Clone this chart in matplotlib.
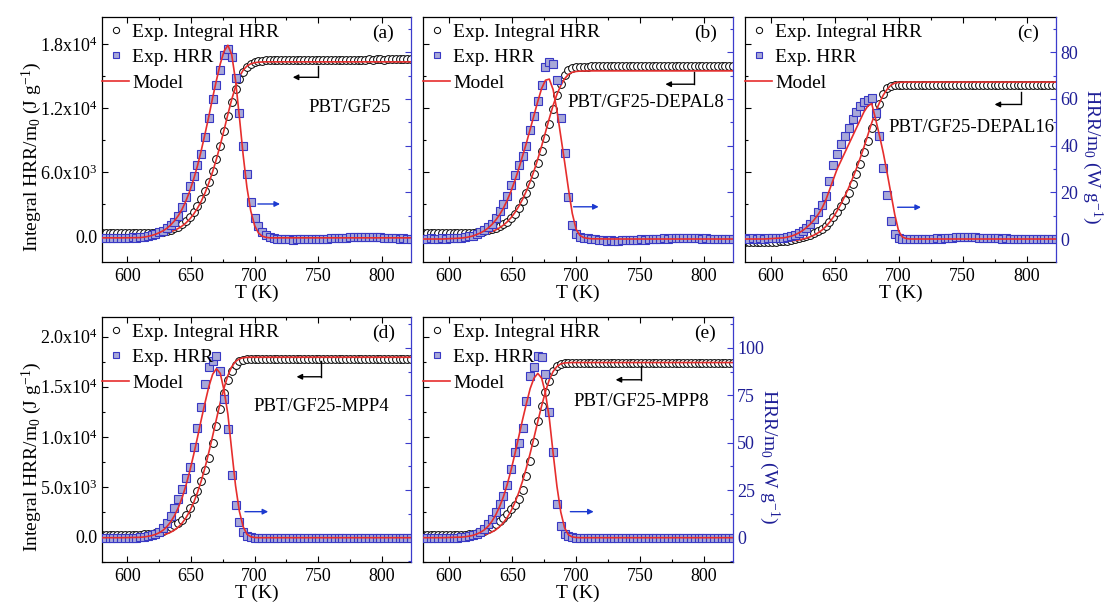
import math
import matplotlib
matplotlib.use("Agg")
import matplotlib.pyplot as plt
from matplotlib.ticker import MultipleLocator, FuncFormatter
from matplotlib.lines import Line2D

plt.rcParams['font.family'] = ['Liberation Serif', 'DejaVu Serif']
plt.rcParams['mathtext.fontset'] = 'custom'
plt.rcParams['mathtext.rm'] = 'Liberation Serif'
plt.rcParams['mathtext.it'] = 'Liberation Serif:italic'
plt.rcParams['mathtext.bf'] = 'Liberation Serif:bold'

# temperature grids (K)
T_exp = [580, 583, 586, 589, 592, 595, 598, 601, 604, 607, 610, 613, 616, 619,
         622, 625, 628, 631, 634, 637, 640, 643, 646, 649, 652, 655, 658, 661,
         664, 667, 670, 673, 676, 679, 682, 685, 688, 691, 694, 697, 700, 703,
         706, 709, 712, 715, 718, 721, 724, 727, 730, 733, 736, 739, 742, 745,
         748, 751, 754, 757, 760, 763, 766, 769, 772, 775, 778, 781, 784, 787,
         790, 793, 796, 799, 802, 805, 808, 811, 814, 817, 820, 823]
T_model = [580, 595, 610, 613, 616, 619, 622, 625, 628, 631, 634, 637, 640, 643,
           646, 649, 652, 655, 658, 661, 664, 667, 670, 673, 676, 679, 682, 685,
           688, 691, 694, 697, 700, 703, 706, 709, 712, 725, 823]

# (a) PBT/GF25 ; HRR in W/g, integral in 10^3 J/g
hrr_a = [0.5, 0.3, 0.6, 0.4, 0.5, 0.6, 0.4, 0.5, 0.7, 0.6, 0.8, 1.0, 1.3, 1.8,
         2.3, 2.8, 3.6, 4.6, 5.9, 7.3, 9.8, 13.5, 18.0, 22.5, 27.0, 31.5, 36.5, 43.5,
         52.0, 60.0, 66.0, 72.5, 79.0, 81.5, 78.0, 69.0, 54.0, 40.0, 28.0, 16.0, 9.0, 5.5,
         3.2, 1.8, 1.0, 0.5, 0.2, 0.0, -0.2, -0.1, -0.3, -0.2, 0.0, -0.1, 0.1, 0.0,
         0.2, 0.1, -0.1, 0.2, 0.4, 0.3, 0.5, 0.6, 0.4, 0.7, 0.9, 0.8, 1.0, 0.9,
         0.7, 0.8, 1.0, 0.8, 0.6, 0.4, 0.3, 0.5, 0.2, 0.3, 0.1, 0.2]
int_a = [0.24, 0.24, 0.25, 0.24, 0.25, 0.25, 0.24, 0.25, 0.25, 0.25, 0.26, 0.26, 0.27, 0.28,
         0.30, 0.34, 0.40, 0.48, 0.58, 0.71, 0.87, 1.11, 1.42, 1.80, 2.27, 2.81, 3.44, 4.19,
         5.08, 6.11, 7.25, 8.49, 9.85, 11.25, 12.60, 13.78, 14.71, 15.40, 15.88, 16.16, 16.31, 16.41,
         16.46, 16.49, 16.51, 16.52, 16.52, 16.53, 16.52, 16.53, 16.54, 16.53, 16.54, 16.54, 16.55, 16.54,
         16.55, 16.55, 16.56, 16.55, 16.56, 16.56, 16.55, 16.56, 16.57, 16.56, 16.57, 16.57, 16.56, 16.57,
         16.58, 16.57, 16.58, 16.58, 16.57, 16.58, 16.58, 16.59, 16.58, 16.59, 16.59, 16.58]
mhrr_a = [0.5, 0.5, 0.6, 0.8, 1.1, 1.5, 2.0, 2.7, 3.5, 4.6, 6.0, 7.8, 10.0, 12.8,
          16.3, 20.5, 25.5, 31.2, 37.8, 45.0, 52.5, 60.5, 68.0, 75.0, 80.5, 83.0, 79.0, 68.0,
          52.5, 36.0, 22.0, 12.0, 5.8, 2.6, 1.2, 0.7, 0.5, 0.5, 0.5]
mint_a = [0.0, 0.0, 0.01, 0.02, 0.04, 0.07, 0.11, 0.15, 0.21, 0.30, 0.40, 0.54, 0.71, 0.94,
          1.23, 1.59, 2.04, 2.59, 3.25, 4.04, 4.97, 6.03, 7.23, 8.55, 9.96, 11.43, 12.82, 14.01,
          14.94, 15.57, 15.96, 16.17, 16.27, 16.32, 16.34, 16.35, 16.35, 16.35, 16.35]

# (b) PBT/GF25-DEPAL8
hrr_b = [0.2, 0.0, 0.3, 0.1, 0.2, 0.3, 0.2, 0.4, 0.3, 0.5, 0.6, 0.8, 1.1, 1.5,
         2.1, 2.8, 3.8, 5.0, 6.6, 8.8, 11.8, 14.8, 18.5, 23.0, 27.5, 31.7, 35.5, 40.0,
         46.5, 52.5, 59.0, 66.0, 73.5, 76.0, 75.0, 68.0, 52.0, 37.0, 18.0, 6.0, 2.2, 1.0,
         0.5, 0.3, 0.2, 0.0, -0.3, -0.5, -0.7, -0.6, -0.8, -0.7, -0.5, -0.6, -0.4, -0.3,
         -0.5, -0.2, -0.3, 0.0, -0.1, 0.2, 0.1, 0.3, 0.2, 0.4, 0.5, 0.3, 0.4, 0.6,
         0.5, 0.3, 0.4, 0.2, 0.3, 0.1, 0.2, 0.0, 0.1, -0.1, 0.0, -0.2]
int_b = [0.25, 0.25, 0.24, 0.25, 0.25, 0.26, 0.25, 0.26, 0.26, 0.27, 0.27, 0.28, 0.30, 0.32,
         0.36, 0.41, 0.48, 0.57, 0.66, 0.77, 0.90, 1.10, 1.35, 1.65, 2.10, 2.65, 3.30, 4.00,
         4.85, 5.85, 6.90, 8.00, 9.20, 10.50, 11.90, 13.20, 14.30, 15.10, 15.55, 15.75, 15.85, 15.88,
         15.90, 15.91, 15.92, 15.92, 15.93, 15.92, 15.93, 15.93, 15.94, 15.93, 15.94, 15.94, 15.95, 15.94,
         15.95, 15.95, 15.96, 15.95, 15.96, 15.96, 15.95, 15.96, 15.97, 15.96, 15.97, 15.97, 15.96, 15.97,
         15.98, 15.97, 15.98, 15.98, 15.97, 15.98, 15.98, 15.99, 15.98, 15.99, 15.99, 15.98]
mhrr_b = [0.0, 0.0, 0.4, 0.6, 0.9, 1.3, 1.9, 2.6, 3.5, 4.7, 6.2, 8.1, 10.4, 13.2,
          16.6, 20.5, 25.0, 30.0, 35.5, 41.0, 47.0, 53.0, 59.0, 64.5, 68.0, 68.5, 64.0, 55.0,
          44.0, 33.0, 21.5, 11.0, 4.2, 1.5, 0.6, 0.3, 0.1, 0.0, 0.0]
mint_b = [0.0, 0.0, 0.01, 0.02, 0.04, 0.06, 0.10, 0.15, 0.21, 0.30, 0.42, 0.57, 0.77, 1.02,
          1.33, 1.72, 2.20, 2.77, 3.44, 4.22, 5.11, 6.11, 7.23, 8.45, 9.74, 11.04, 12.26, 13.30,
          14.13, 14.76, 15.17, 15.37, 15.45, 15.48, 15.49, 15.50, 15.50, 15.50, 15.50]

# (c) PBT/GF25-DEPAL16
hrr_c = [0.3, 0.1, 0.4, 0.2, 0.3, 0.1, 0.3, 0.4, 0.3, 0.5, 0.6, 0.9, 1.3, 1.9,
         2.7, 3.6, 4.8, 6.4, 8.6, 11.5, 14.5, 18.5, 25.0, 31.5, 36.5, 40.5, 44.0, 47.5,
         51.5, 54.5, 57.0, 58.5, 59.5, 60.5, 54.0, 44.0, 30.5, 19.0, 7.5, 2.0, 0.6, 0.2,
         0.1, 0.0, 0.0, -0.1, 0.1, 0.0, 0.2, 0.1, 0.3, 0.2, 0.4, 0.5, 0.6, 0.8,
         0.7, 0.9, 0.8, 0.7, 0.9, 0.6, 0.5, 0.6, 0.4, 0.3, 0.4, 0.2, 0.3, 0.1,
         0.2, 0.0, 0.1, 0.0, -0.1, 0.0, 0.1, -0.1, 0.0, -0.2, -0.1, 0.0]
int_c = [-0.55, -0.55, -0.54, -0.55, -0.55, -0.54, -0.54, -0.53, -0.52, -0.50, -0.47, -0.43, -0.38, -0.31,
         -0.22, -0.12, 0.00, 0.13, 0.28, 0.47, 0.68, 0.95, 1.30, 1.75, 2.25, 2.80, 3.40, 4.05,
         4.90, 5.80, 6.80, 7.85, 8.95, 10.10, 11.25, 12.40, 13.30, 13.88, 14.08, 14.14, 14.15, 14.16,
         14.16, 14.16, 14.16, 14.17, 14.16, 14.17, 14.17, 14.16, 14.17, 14.18, 14.17, 14.17, 14.18, 14.17,
         14.18, 14.18, 14.17, 14.18, 14.19, 14.18, 14.18, 14.19, 14.18, 14.19, 14.19, 14.18, 14.19, 14.20,
         14.19, 14.19, 14.20, 14.19, 14.20, 14.20, 14.19, 14.20, 14.20, 14.21, 14.20, 14.20]
mhrr_c = [0.0, 0.0, 0.5, 0.8, 1.2, 1.8, 2.6, 3.6, 4.9, 6.4, 8.2, 10.4, 13.0, 16.5,
          21.0, 25.5, 30.0, 33.5, 37.0, 40.5, 44.0, 47.5, 51.0, 54.5, 57.0, 58.0, 51.5, 44.5,
          37.0, 28.5, 19.5, 10.5, 3.5, 0.8, 0.2, 0.0, 0.0, 0.0, 0.0]
mint_c = [-0.50, -0.50, -0.49, -0.47, -0.45, -0.42, -0.37, -0.29, -0.20, -0.07, 0.09, 0.29, 0.54, 0.87,
          1.28, 1.77, 2.36, 3.01, 3.74, 4.53, 5.39, 6.31, 7.31, 8.37, 9.49, 10.62, 11.63, 12.50,
          13.22, 13.77, 14.16, 14.36, 14.43, 14.44, 14.45, 14.45, 14.45, 14.45, 14.45]

# (d) PBT/GF25-MPP4
hrr_d = [-0.2, -0.4, -0.1, -0.3, -0.2, -0.4, -0.2, -0.1, 0.0, 0.1, 0.3, 0.6, 0.9, 1.4,
         2.1, 3.2, 5.0, 7.5, 11.5, 15.5, 20.5, 25.5, 31.5, 37.0, 48.0, 58.0, 69.0, 81.0,
         90.0, 93.0, 95.5, 88.0, 73.0, 57.0, 33.0, 17.0, 8.0, 3.0, 1.0, 0.3, 0.0, -0.2,
         -0.3, -0.2, -0.3, -0.2, -0.4, -0.3, -0.2, -0.3, -0.4, -0.3, -0.2, -0.3, -0.3, -0.4,
         -0.2, -0.3, -0.3, -0.2, -0.4, -0.3, -0.3, -0.2, -0.3, -0.4, -0.3, -0.2, -0.3, -0.3,
         -0.4, -0.3, -0.2, -0.3, -0.3, -0.2, -0.4, -0.3, -0.3, -0.2, -0.3, -0.3]
int_d = [0.20, 0.20, 0.21, 0.20, 0.21, 0.21, 0.20, 0.21, 0.22, 0.22, 0.23, 0.25, 0.28, 0.32,
         0.40, 0.50, 0.63, 0.80, 1.00, 1.20, 1.42, 1.68, 2.20, 2.90, 3.80, 4.60, 5.60, 6.70,
         7.90, 9.40, 11.10, 12.80, 14.40, 15.70, 16.60, 17.20, 17.55, 17.72, 17.78, 17.80, 17.81, 17.81,
         17.82, 17.82, 17.82, 17.81, 17.82, 17.81, 17.81, 17.82, 17.81, 17.80, 17.81, 17.80, 17.81, 17.80,
         17.80, 17.79, 17.80, 17.79, 17.80, 17.79, 17.79, 17.78, 17.79, 17.78, 17.79, 17.78, 17.78, 17.77,
         17.78, 17.77, 17.78, 17.77, 17.77, 17.76, 17.77, 17.76, 17.77, 17.76, 17.76, 17.75]
mhrr_d = [0.0, 0.0, 0.2, 0.4, 0.7, 1.1, 1.7, 2.6, 3.9, 5.8, 8.3, 11.6, 15.8, 21.0,
          27.5, 35.0, 43.5, 52.5, 62.0, 71.0, 79.5, 86.0, 89.0, 86.5, 77.5, 65.0, 46.0, 27.5,
          14.0, 5.8, 1.8, 0.5, 0.1, 0.0, 0.0, 0.0, 0.0, 0.0, 0.0]
mint_d = [0.0, 0.0, 0.00, 0.01, 0.02, 0.05, 0.08, 0.13, 0.20, 0.31, 0.47, 0.69, 0.99, 1.39,
          1.91, 2.58, 3.41, 4.41, 5.58, 6.93, 8.45, 10.08, 11.78, 13.42, 14.89, 16.13, 17.00, 17.53,
          17.79, 17.90, 17.94, 17.95, 17.95, 17.95, 17.95, 17.95, 17.95, 17.95, 17.95]

# (e) PBT/GF25-MPP8
hrr_e = [-0.1, -0.3, 0.0, -0.2, -0.1, -0.3, -0.1, 0.0, -0.2, 0.1, 0.3, 0.5, 0.8, 1.3,
         2.0, 3.0, 4.5, 7.0, 10.0, 13.5, 17.5, 22.0, 28.0, 36.0, 45.0, 50.0, 58.0, 72.0,
         85.0, 90.0, 95.5, 95.0, 86.0, 66.0, 45.0, 18.0, 6.0, 2.2, 0.8, 0.3, 0.1, -0.1,
         -0.2, -0.3, -0.3, -0.2, -0.4, -0.3, -0.3, -0.2, -0.3, -0.4, -0.3, -0.2, -0.3, -0.3,
         -0.4, -0.3, -0.2, -0.3, -0.3, -0.2, -0.4, -0.3, -0.3, -0.2, -0.3, -0.3, -0.4, -0.3,
         -0.2, -0.3, -0.3, -0.4, -0.3, -0.2, -0.3, -0.3, -0.2, -0.4, -0.3, -0.3]
int_e = [0.20, 0.20, 0.19, 0.20, 0.20, 0.21, 0.20, 0.20, 0.21, 0.21, 0.21, 0.22, 0.25, 0.30,
         0.37, 0.47, 0.60, 0.78, 1.00, 1.25, 1.55, 1.90, 2.30, 2.75, 3.20, 3.75, 4.70, 6.10,
         7.60, 9.50, 11.60, 13.10, 14.50, 15.60, 16.60, 17.10, 17.30, 17.36, 17.38, 17.39, 17.40, 17.40,
         17.40, 17.40, 17.40, 17.39, 17.40, 17.39, 17.39, 17.40, 17.39, 17.38, 17.39, 17.38, 17.39, 17.38,
         17.38, 17.37, 17.38, 17.37, 17.38, 17.37, 17.37, 17.36, 17.37, 17.36, 17.37, 17.36, 17.36, 17.35,
         17.36, 17.35, 17.36, 17.35, 17.35, 17.34, 17.35, 17.34, 17.35, 17.34, 17.34, 17.33]
mhrr_e = [0.0, 0.0, 0.3, 0.5, 0.8, 1.2, 1.9, 2.8, 4.1, 6.0, 8.6, 12.0, 16.3, 21.5,
          28.0, 35.5, 44.0, 53.0, 62.0, 70.5, 78.5, 84.0, 86.5, 84.0, 76.0, 63.0, 44.5, 27.0,
          13.5, 5.2, 1.5, 0.4, 0.1, 0.0, 0.0, 0.0, 0.0, 0.0, 0.0]
mint_e = [0.0, 0.0, 0.01, 0.01, 0.03, 0.05, 0.09, 0.14, 0.22, 0.33, 0.49, 0.71, 1.02, 1.42,
          1.94, 2.60, 3.43, 4.41, 5.57, 6.89, 8.35, 9.92, 11.54, 13.10, 14.52, 15.70, 16.53, 17.03,
          17.29, 17.38, 17.41, 17.42, 17.42, 17.42, 17.42, 17.42, 17.42, 17.42, 17.42]

panel_tags = ['(a)', '(b)', '(c)', '(d)', '(e)']
sample_names = ['PBT/GF25', 'PBT/GF25-DEPAL8', 'PBT/GF25-DEPAL16',
                'PBT/GF25-MPP4', 'PBT/GF25-MPP8']

RED = '#e62e2d'
SQ_FACE = '#a8a8d8'
SQ_EDGE = '#3838c4'
BLUE = '#3c3ccc'
NAVY = '#1e1e96'
FS = 14
TICK_FS = 13


def sci_label(v, pos):
    if abs(v) < 1e-6:
        return '0.0'
    e = int(math.floor(math.log10(abs(v))))
    return '%.1fx10$^{%d}$' % (v / 10 ** e, e)


fig = plt.figure(figsize=(11.07, 6.06), dpi=100)

# axes boxes in pixels: left, top, right, bottom
boxes = [(102, 17, 411, 262), (423, 17, 733, 262), (745, 17, 1056, 262),
         (102, 317, 411, 562), (423, 317, 733, 562)]
W, H = 1107.0, 606.0

series = [(hrr_a, int_a, mhrr_a, mint_a), (hrr_b, int_b, mhrr_b, mint_b),
          (hrr_c, int_c, mhrr_c, mint_c), (hrr_d, int_d, mhrr_d, mint_d),
          (hrr_e, int_e, mhrr_e, mint_e)]

# text / arrow placement (axes fraction for texts, data units for arrows)
name_pos = [(0.80, 0.63), (0.718, 0.649), (0.727, 0.551), (0.71, 0.634), (0.705, 0.654)]
black_arrows = [(749.7, 730, 16.0, 14.9), (792.3, 770, 15.4, 14.25), (795.4, 775, 13.5, 12.35),
                (752.6, 733, 17.6, 16.0), (750.5, 731, 17.1, 15.7)]
blue_arrows = [(702.6, 720, 15), (698, 717.7, 13.8), (699.2, 717.5, 13.6),
               (692.4, 710.7, 13.7), (695.5, 713.8, 13.7)]

for k in range(5):
    l, t, r, b = boxes[k]
    ax = fig.add_axes([l / W, 1 - b / H, (r - l) / W, (b - t) / H])
    ax2 = ax.twinx()
    hrr, integ, mhrr, minteg = series[k]
    row = 0 if k < 3 else 1

    ax.plot(T_exp, [v * 1000 for v in integ], 'o', mfc='white', mec='black',
            ms=5.6, mew=0.7, zorder=2)
    ax.plot(T_model, [v * 1000 for v in minteg], '-', color=RED, lw=1.2, zorder=3)
    ax2.plot(T_exp, hrr, 's', mfc=SQ_FACE, mec=SQ_EDGE, ms=5.8, mew=0.8, zorder=2)
    ax2.plot(T_model, mhrr, '-', color=RED, lw=1.2, zorder=3)

    ax.set_xlim(580, 823)
    if row == 0:
        ax.set_ylim(-2440, 20560)
        ax.yaxis.set_major_locator(MultipleLocator(6000))
        ax.yaxis.set_minor_locator(MultipleLocator(3000))
        ax2.set_ylim(-9.85, 95.1)
        ax2.yaxis.set_major_locator(MultipleLocator(20))
        ax2.yaxis.set_minor_locator(MultipleLocator(10))
    else:
        ax.set_ylim(-2500, 21970)
        ax.yaxis.set_major_locator(MultipleLocator(5000))
        ax.yaxis.set_minor_locator(MultipleLocator(2500))
        ax2.set_ylim(-12.8, 116.2)
        ax2.yaxis.set_major_locator(MultipleLocator(25))
        ax2.yaxis.set_minor_locator(MultipleLocator(12.5))
    ax.yaxis.set_major_formatter(FuncFormatter(sci_label))
    ax.xaxis.set_major_locator(MultipleLocator(50))
    ax.xaxis.set_minor_locator(MultipleLocator(25))

    ax.tick_params(axis='x', which='both', direction='in', top=True, bottom=True,
                   labelsize=TICK_FS, pad=4)
    ax.tick_params(axis='both', which='major', length=4, width=0.8)
    ax.tick_params(axis='both', which='minor', length=2.5, width=0.8)
    ax.tick_params(axis='y', which='both', direction='in', left=True, right=False,
                   labelsize=TICK_FS, pad=3, labelleft=(k in (0, 3)))
    ax2.tick_params(axis='y', which='both', direction='in', right=True, colors=BLUE,
                    labelsize=TICK_FS, pad=3, labelright=(k in (2, 4)), width=0.8)
    ax2.tick_params(axis='y', which='major', length=4)
    ax2.tick_params(axis='y', which='minor', length=2.5)
    for lab in ax2.get_yticklabels():
        lab.set_color(NAVY)

    for s in ax.spines.values():
        s.set_linewidth(0.9)
    ax.spines['right'].set_visible(False)
    for s in ('left', 'top', 'bottom'):
        ax2.spines[s].set_visible(False)
    ax2.spines['right'].set_color(BLUE)
    ax2.spines['right'].set_linewidth(0.9)

    ax.set_xlabel('T (K)', fontsize=FS, labelpad=0)
    if k in (0, 3):
        ax.set_ylabel('Integral HRR/m$_0$ (J g$^{-1}$)', fontsize=FS)
        ax.yaxis.label.set_va('center')
        ax.yaxis.label.set_ha('center')
        ax.yaxis.set_label_coords(-0.228, 0.43)
    if k in (2, 4):
        ax2.set_ylabel('HRR/m$_0$ (W g$^{-1}$)', fontsize=FS, color=NAVY, rotation=270)
        ax2.yaxis.label.set_va('center')
        ax2.yaxis.label.set_ha('center')
        ax2.yaxis.set_label_coords(1.117, 0.43)

    ax.text(0.91, 0.935, panel_tags[k], transform=ax.transAxes, fontsize=FS,
            ha='center', va='center')
    ax.text(name_pos[k][0], name_pos[k][1], sample_names[k], transform=ax.transAxes,
            fontsize=13.5, ha='center', va='center')

    xv, xh, ytop, ybot = black_arrows[k]
    ax.plot([xv, xv], [ytop * 1000, ybot * 1000], color='black', lw=1.0, zorder=4)
    ax.annotate('', xy=(xh, ybot * 1000), xytext=(xv, ybot * 1000),
                arrowprops=dict(arrowstyle='-|>', color='black', lw=1.0,
                                mutation_scale=8, shrinkA=0, shrinkB=0), zorder=4)
    x0, x1, yb = blue_arrows[k]
    ax2.annotate('', xy=(x1, yb), xytext=(x0, yb),
                 arrowprops=dict(arrowstyle='-|>', color='#1c3ad0', lw=1.0,
                                 mutation_scale=8, shrinkA=0, shrinkB=0), zorder=4)

    handles = [Line2D([], [], ls='none', marker='o', mfc='white', mec='black', ms=4.5, mew=0.7),
               Line2D([], [], ls='none', marker='s', mfc=SQ_FACE, mec=SQ_EDGE, ms=4.5, mew=0.8),
               Line2D([], [], color=RED, lw=1.2)]
    ax2.legend(handles, ['Exp. Integral HRR', 'Exp. HRR', 'Model'], loc='upper left',
               bbox_to_anchor=(0, 0.975), borderaxespad=0, borderpad=0, frameon=False,
               fontsize=FS, handlelength=1.4, handletextpad=0.15, labelspacing=0.4,
               numpoints=1)

fig.savefig('out.png', dpi=100, facecolor='white')
